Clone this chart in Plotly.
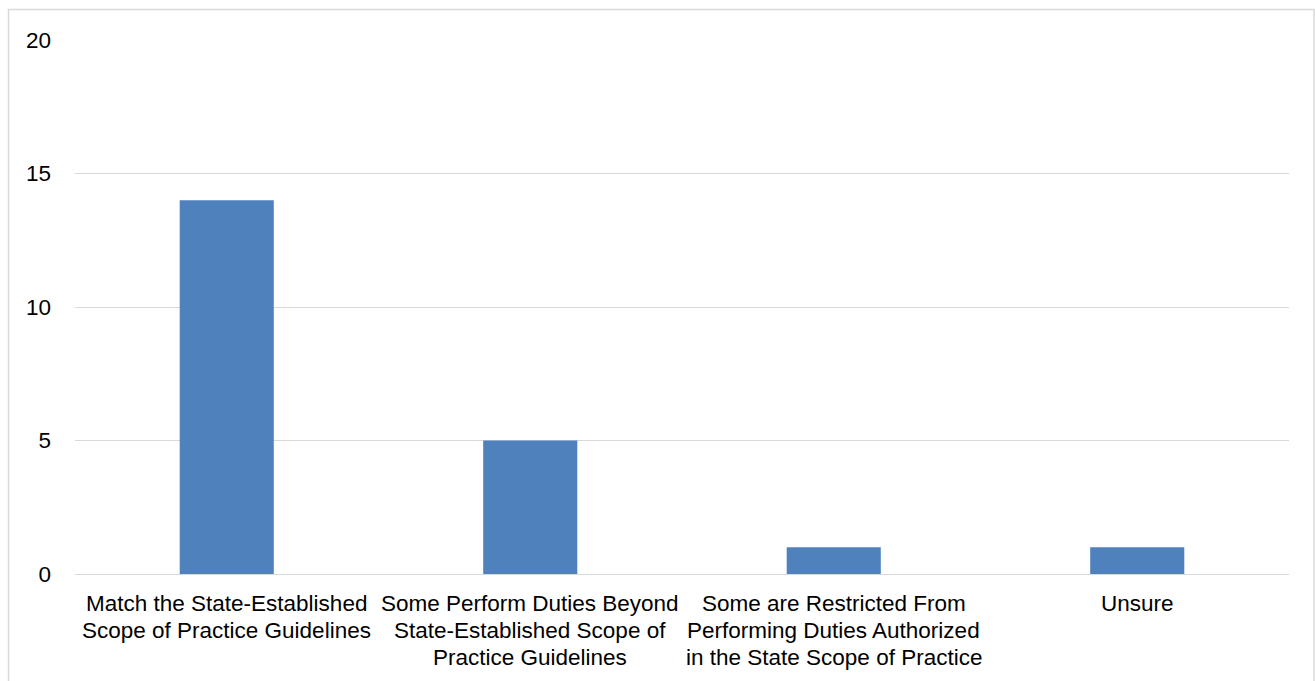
import plotly.graph_objects as go

categories = [
    "Match the State-Established<br>Scope of Practice Guidelines",
    "Some Perform Duties Beyond<br>State-Established Scope of<br>Practice Guidelines",
    "Some are Restricted From<br>Performing Duties Authorized<br>in the State Scope of Practice",
    "Unsure",
]
values = [14, 5, 1, 1]
y_ticks = [0, 5, 10, 15, 20]

W, H = 1315, 681
L, R, T, B = 75, 26, 40, 107
pw, ph = W - L - R, H - T - B
FONT = "Liberation Sans, Arial, sans-serif"
FS = 22.5

fig = go.Figure(go.Bar(x=categories, y=values, marker_color="#4F81BD",
                       marker_line_width=0, hoverinfo="skip"))

def px2paper_x(px):
    return (px - L) / pw

def px2paper_y(py):
    return (H - B - py) / ph

fig.add_shape(type="rect", xref="paper", yref="paper",
              x0=px2paper_x(8.5), x1=px2paper_x(1314), y0=px2paper_y(690), y1=px2paper_y(9.5),
              line=dict(color="#D9D9D9", width=1.5), fillcolor="rgba(0,0,0,0)", layer="below")

# category labels, one annotation per line for Excel-like tight line spacing
for cat in categories:
    for i, line in enumerate(cat.split("<br>")):
        fig.add_annotation(x=cat, xref="x", y=0, yref="paper", text=line,
                           showarrow=False, xanchor="center", yanchor="middle",
                           yshift=-(29 + 27 * i),
                           font=dict(family=FONT, size=FS, color="#000000"))

fig.update_layout(
    width=W, height=H,
    margin=dict(l=L, r=R, t=T, b=B),
    paper_bgcolor="white", plot_bgcolor="white",
    bargap=0.69,
    showlegend=False,
    font=dict(family=FONT, size=FS, color="#000000"),
    xaxis=dict(showgrid=False, showline=True, linecolor="#D9D9D9", linewidth=1,
               ticks="", showticklabels=False, fixedrange=True),
    yaxis=dict(range=[0, 20], tickvals=y_ticks, showgrid=True, gridcolor="#D9D9D9",
               gridwidth=1, zeroline=False, showline=False, ticks="",
               tickfont=dict(family=FONT, size=FS), ticklabelstandoff=23, fixedrange=True),
)

fig.write_html("out.html")
